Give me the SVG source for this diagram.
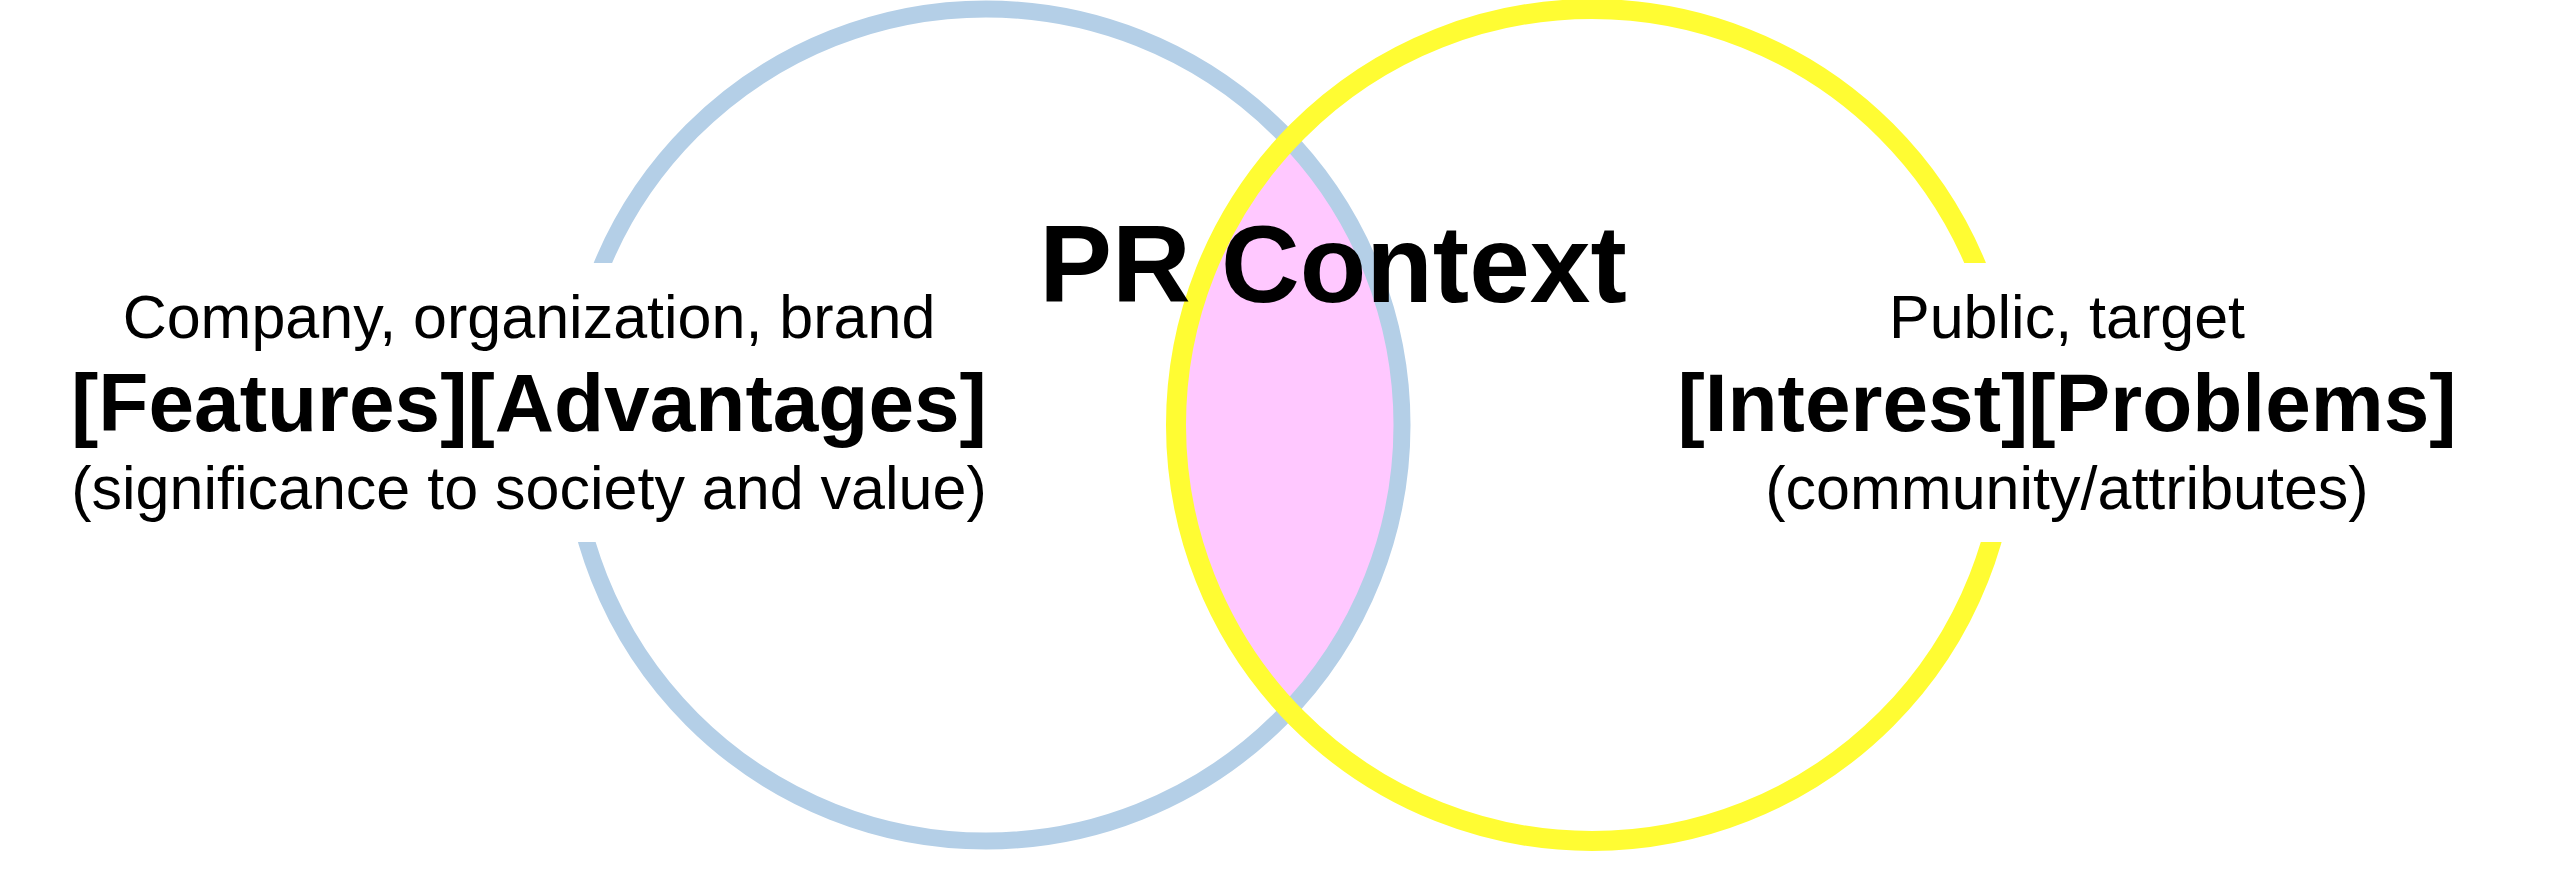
<svg xmlns="http://www.w3.org/2000/svg" width="2560" height="878" viewBox="0 0 2560 878">
<style>
.t{font-family:"Liberation Sans",Arial,sans-serif;fill:#000;text-anchor:middle}
.r{font-size:61px}
.b{font-size:82px;font-weight:bold}
.h{font-size:109px;font-weight:bold}
.ring{fill:none}
.mask{fill:#fff}
</style>
<defs>
<clipPath id="clipY"><circle cx="1592" cy="425" r="416"/></clipPath>
</defs>
<rect x="0" y="0" width="2560" height="878" fill="#fff"/>
<g id="overlap">
<circle cx="986" cy="425" r="416" fill="#FFC8FF" clip-path="url(#clipY)"/>
</g>
<g id="company">
<circle class="ring" cx="986" cy="425" r="416" stroke="#B4CFE7" stroke-width="17"/>
</g>
<g id="public">
<circle class="ring" cx="1592" cy="425" r="416" stroke="#FFFC33" stroke-width="20"/>
</g>
<g id="company-label">
<rect class="mask" x="40" y="263" width="970" height="279"/>
<text class="t r" x="529" y="338">Company, organization, brand</text>
<text class="t b" x="529" y="431">[Features][Advantages]</text>
<text class="t r" x="529" y="509">(significance to society and value)</text>
</g>
<g id="public-label">
<rect class="mask" x="1660" y="263" width="860" height="279"/>
<text class="t r" x="2067" y="338">Public, target</text>
<text class="t b" x="2067" y="431">[Interest][Problems]</text>
<text class="t r" x="2067" y="509">(community/attributes)</text>
</g>
<g id="context">
<text class="t h" x="1333" y="302">PR Context</text>
</g>
<g id="connectors"></g>
</svg>
